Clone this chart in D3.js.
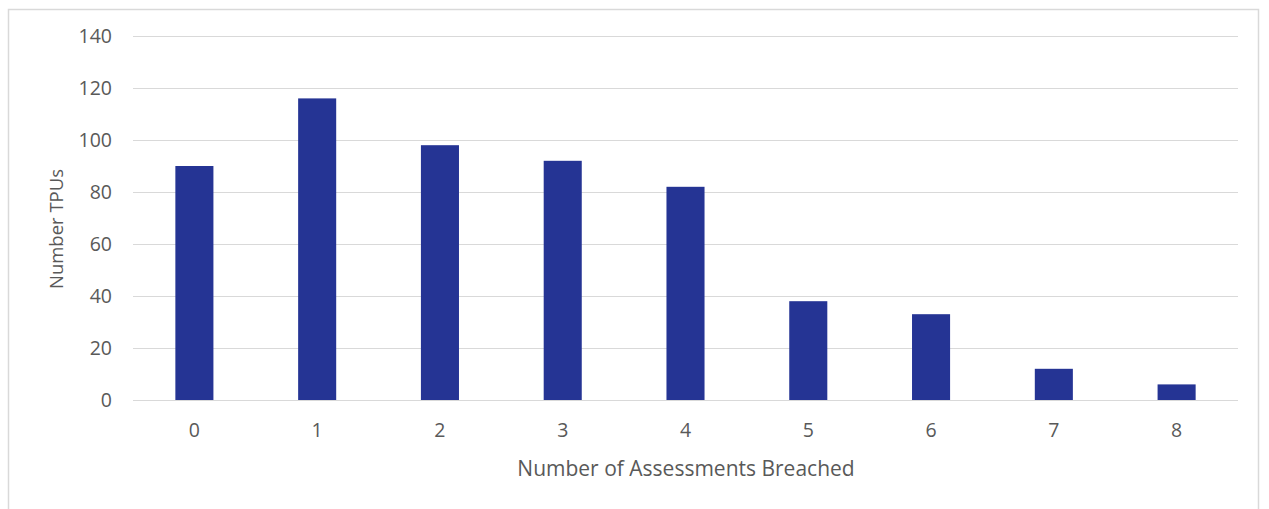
<!DOCTYPE html>
<html>
<head>
<meta charset="utf-8">
<script src="https://cdn.jsdelivr.net/npm/d3@7"></script>
<style>
  html, body { margin: 0; padding: 0; background: #fff; }
  svg { display: block; }
  text { font-family: "Open Sans", "Liberation Sans", sans-serif; fill: #595959; }
</style>
</head>
<body>
<script>
// Distribution of TPUs by number of assessments breached
const categories = ["0", "1", "2", "3", "4", "5", "6", "7", "8"];
const tpuCounts = [90, 116, 98, 92, 82, 38, 33, 12, 6];
const yTicks = [0, 20, 40, 60, 80, 100, 120, 140];
const xTitle = "Number of Assessments Breached";
const yTitle = "Number TPUs";

const W = 1269, H = 509;
const margin = { left: 133, right: 31, top: 36, bottom: 109 };

const svg = d3.select("body").append("svg")
  .attr("width", W).attr("height", H);

// chart frame
svg.append("rect")
  .attr("x", 8.5).attr("y", 9.5)
  .attr("width", 1250).attr("height", 520)
  .attr("fill", "none").attr("stroke", "#d9d9d9").attr("stroke-width", 1.5);

const x = d3.scaleBand()
  .domain(categories)
  .range([margin.left, W - margin.right])
  .paddingInner(0.69).paddingOuter(0.345);

const y = d3.scaleLinear()
  .domain([0, 140])
  .range([H - margin.bottom, margin.top]);

// horizontal gridlines
svg.append("g")
  .selectAll("line")
  .data(yTicks)
  .join("line")
  .attr("x1", margin.left).attr("x2", W - margin.right)
  .attr("y1", d => Math.round(y(d)) + 0.5).attr("y2", d => Math.round(y(d)) + 0.5)
  .attr("stroke", "#d9d9d9").attr("stroke-width", 1);

// y axis labels
const yAxis = d3.axisLeft(y).tickValues(yTicks).tickSize(0).tickPadding(0);
const gy = svg.append("g")
  .attr("transform", `translate(${margin.left - 21},0)`)
  .call(yAxis);
gy.select(".domain").remove();
gy.selectAll("text")
  .attr("font-family", "'Open Sans', sans-serif")
  .attr("font-size", 19.5)
  .attr("fill", "#595959");

// bars
svg.append("g")
  .selectAll("rect")
  .data(tpuCounts)
  .join("rect")
  .attr("x", (d, i) => x(categories[i]))
  .attr("width", x.bandwidth())
  .attr("y", d => y(d))
  .attr("height", d => y(0) - y(d))
  .attr("fill", "#253494");

// x axis labels
const xAxis = d3.axisBottom(x).tickSize(0).tickPadding(0);
const gx = svg.append("g")
  .attr("transform", `translate(0,${y(0) + 23})`)
  .call(xAxis);
gx.select(".domain").remove();
gx.selectAll("text")
  .attr("font-family", "'Open Sans', sans-serif")
  .attr("font-size", 19.5)
  .attr("fill", "#595959");

// axis titles
svg.append("text")
  .attr("x", 686)
  .attr("y", 476)
  .attr("text-anchor", "middle")
  .attr("font-size", 21)
  .text(xTitle);

svg.append("text")
  .attr("transform", `translate(63,${229}) rotate(-90)`)
  .attr("text-anchor", "middle")
  .attr("font-size", 18.5)
  .text(yTitle);
</script>
</body>
</html>
